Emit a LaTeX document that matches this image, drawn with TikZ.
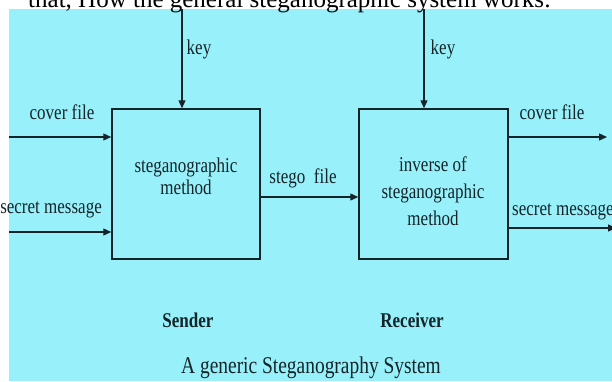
\documentclass[tikz,border=0pt]{standalone}
\usepackage{fontspec}
\setmainfont{Liberation Serif}
\newfontfamily\condfont[FakeStretch=0.81]{Liberation Serif}
\usetikzlibrary{arrows.meta}
\definecolor{bgcyan}{RGB}{152,240,250}
\definecolor{ink}{RGB}{20,36,40}
\begin{document}
\begin{tikzpicture}[x=1pt,y=-1pt,
  lbl/.style={font=\condfont\fontsize{21}{23}\selectfont, text=ink, inner sep=0pt},
  boldlbl/.style={font=\condfont\bfseries\fontsize{21}{23}\selectfont, text=ink, inner sep=0pt},
  arr/.style={draw=ink, line width=1.3pt, -{Triangle[length=8pt,width=7pt]}},
  box/.style={draw=ink, line width=1.5pt, minimum width=148pt, minimum height=150pt, inner sep=0pt},
]
\clip (0,0) rectangle (612,381);
\fill[bgcyan] (9,9) rectangle (612,381);
\node[anchor=base west, font=\fontsize{25}{30}\selectfont, inner sep=0pt] (top) at (28,7) {that, How the general steganographic system works:};

\node[box] (snd) at (186,184) {};
\node[box, minimum width=149pt] (rcv) at (433.5,184) {};

\node[lbl, align=center, font=\condfont\fontsize{21}{22}\selectfont] (sndtxt) at (186,176) {steganographic\\method};
\node[lbl, align=center, font=\condfont\fontsize{21}{27}\selectfont] (rcvtxt) at (433,191) {inverse of\\steganographic\\method};

\coordinate (k1) at (182,9);
\coordinate (k2) at (424,9);
\draw[arr] (k1) -- (k1 |- snd.north);
\draw[arr] (k2) -- (k2 |- rcv.north);
\node[lbl] (key1) at (199,49) {key};
\node[lbl] (key2) at (443,49) {key};

\coordinate (cin) at (9,137);
\coordinate (sin) at (9,232);
\coordinate (st) at (0,197);
\coordinate (cout) at (607,137);
\coordinate (sout) at (616,228);
\draw[arr] (cin) -- (cin -| snd.west);
\draw[arr] (sin) -- (sin -| snd.west);
\draw[arr] (st -| snd.east) -- (st -| rcv.west);
\draw[arr] (cout -| rcv.east) -- (cout);
\draw[arr] (sout -| rcv.east) -- (sout);

\node[lbl] (lcf) at (62,112) {cover file};
\node[lbl, anchor=east] (lsm) at (102,210) {secret message};
\node[lbl] (stf) at (303,178) {stego\ \ file};
\node[lbl] (rcf) at (552,112) {cover file};
\node[lbl, anchor=west] (rsm) at (512,212) {secret message};

\node[boldlbl] (sender) at (188,320) {Sender};
\node[boldlbl] (receiver) at (412,320) {Receiver};
\node[lbl, font=\condfont\fontsize{24}{28}\selectfont] (cap) at (311,368) {A generic Steganography System};
\end{tikzpicture}
\end{document}
